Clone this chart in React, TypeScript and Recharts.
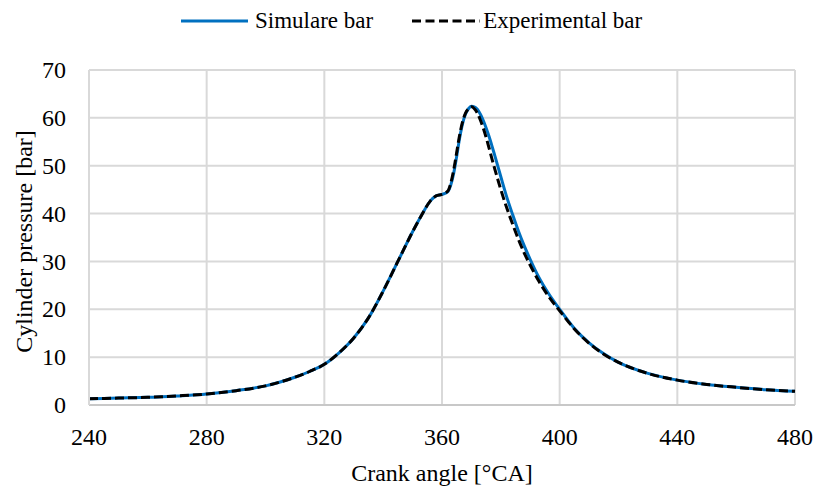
import React from 'react';
import { LineChart, Line, XAxis, YAxis, CartesianGrid, Legend } from 'recharts';

const angles = [
  240, 250, 260, 270, 280, 290, 300, 305, 310, 315, 320, 325, 330, 335, 340, 345, 350, 353, 356, 358,
  360, 362, 363, 364, 365, 366, 367, 368, 369, 370, 371, 372, 373, 374, 375, 376, 377, 378, 380, 382,
  384, 386, 388, 390, 393, 396, 400, 405, 410, 415, 420, 430, 440, 450, 460, 470, 480,
];

const simulated = [
  1.3, 1.45, 1.6, 1.9, 2.3, 3.0, 4.0, 4.8, 5.8, 7.0, 8.5, 10.9, 14.0, 18.2, 23.8, 30.0, 36.2, 39.6, 42.6, 43.7,
  44.0, 44.6, 46.0, 48.5, 52.0, 55.8, 58.8, 60.8, 61.9, 62.4, 62.3, 61.8, 60.8, 59.5, 57.9, 56.1, 54.1, 52.0, 47.7, 43.5,
  39.8, 36.3, 33.2, 30.4, 26.6, 23.5, 20.0, 16.0, 13.0, 10.7, 8.9, 6.6, 5.2, 4.3, 3.7, 3.2, 2.85,
];

const experimental = [
  1.3, 1.45, 1.6, 1.9, 2.3, 3.0, 4.0, 4.8, 5.8, 7.0, 8.5, 10.9, 14.0, 18.2, 23.8, 30.0, 36.2, 39.6, 42.6, 43.7,
  44.0, 44.7, 46.4, 49.2, 52.8, 56.4, 59.2, 61.0, 61.9, 62.3, 61.9, 61.0, 59.6, 57.9, 55.9, 53.7, 51.4, 49.2, 45.0, 41.2,
  37.8, 34.6, 31.7, 29.2, 25.8, 22.9, 19.7, 15.9, 12.9, 10.6, 8.9, 6.6, 5.2, 4.3, 3.7, 3.2, 2.85,
];

const xTicks = [240, 280, 320, 360, 400, 440, 480];
const yTicks = [0, 10, 20, 30, 40, 50, 60, 70];

const data = angles.map((angle, i) => ({ angle, sim: simulated[i], exp: experimental[i] }));

const font = '"Liberation Serif", "Times New Roman", serif';
const textStyle: React.CSSProperties = { fontFamily: font, fontSize: 24, fill: '#000' };

const ChartLegend = () => (
  <div style={{ height: 70, fontFamily: font, fontSize: 23, color: '#000' }}>
    <div style={{ height: 42, display: 'flex', alignItems: 'center', paddingLeft: 181 }}>
      <svg width={67} height={6}>
        <line x1={0} y1={3} x2={67} y2={3} stroke="#0070C0" strokeWidth={3} />
      </svg>
      <span style={{ marginLeft: 7 }}>Simulare bar</span>
      <svg width={68} height={6} style={{ marginLeft: 39 }}>
        <line x1={0} y1={3} x2={68} y2={3} stroke="#000" strokeWidth={3} strokeDasharray="9 4.5" />
      </svg>
      <span style={{ marginLeft: 3 }}>Experimental bar</span>
    </div>
  </div>
);

const XTick = ({ x, y, payload }: any) => (
  <text className="serif-text" x={x} y={y + 22} dy="0.68em" textAnchor="middle" style={textStyle}>
    {payload.value}
  </text>
);

const YTick = ({ x, y, payload }: any) => (
  <text className="serif-text" x={x - 21} y={y} dy="0.34em" textAnchor="end" style={textStyle}>
    {payload.value}
  </text>
);

const XTitle = ({ viewBox }: any) => (
  <text className="serif-text" x={viewBox.x + viewBox.width / 2} y={481} textAnchor="middle" style={textStyle}>
    Crank angle [°CA]
  </text>
);

const YTitle = ({ viewBox }: any) => {
  const cx = 24;
  const cy = viewBox.y + viewBox.height / 2 + 4;
  return (
    <text
      className="serif-text"
      x={cx}
      y={cy}
      dy="0.34em"
      textAnchor="middle"
      transform={`rotate(-90 ${cx} ${cy})`}
      style={textStyle}
    >
      Cylinder pressure [bar]
    </text>
  );
};

export default function App() {
  return (
    <div id="chart-box" style={{ position: 'absolute', left: 0, top: 0, background: '#fff', fontFamily: font }}>
      <style>{`
        html body #root #chart-box svg text.serif-text,
        html body #root #chart-box svg text.serif-text tspan {
          font-family: "Liberation Serif", "Times New Roman", serif !important;
        }
      `}</style>
      <LineChart width={813} height={486} data={data} margin={{ top: 0, right: 18, left: 0, bottom: 0 }}>
        <Legend verticalAlign="top" content={<ChartLegend />} wrapperStyle={{ top: 0, left: 0, width: 813 }} />
        <CartesianGrid stroke="#d9d9d9" strokeWidth={2} />
        <XAxis
          dataKey="angle"
          type="number"
          domain={[240, 480]}
          ticks={xTicks}
          height={81}
          tickSize={0}
          tick={<XTick />}
          axisLine={{ stroke: '#c8c8c8', strokeWidth: 2 }}
          label={<XTitle />}
        />
        <YAxis
          type="number"
          domain={[0, 70]}
          ticks={yTicks}
          width={89}
          tickSize={0}
          tick={<YTick />}
          axisLine={{ stroke: '#d9d9d9', strokeWidth: 2 }}
          label={<YTitle />}
        />
        <Line
          type="monotone"
          dataKey="sim"
          stroke="#0070C0"
          strokeWidth={3}
          dot={false}
          activeDot={false}
          isAnimationActive={false}
        />
        <Line
          type="monotone"
          dataKey="exp"
          stroke="#000"
          strokeWidth={3}
          strokeDasharray="9 4"
          dot={false}
          activeDot={false}
          isAnimationActive={false}
        />
      </LineChart>
    </div>
  );
}
